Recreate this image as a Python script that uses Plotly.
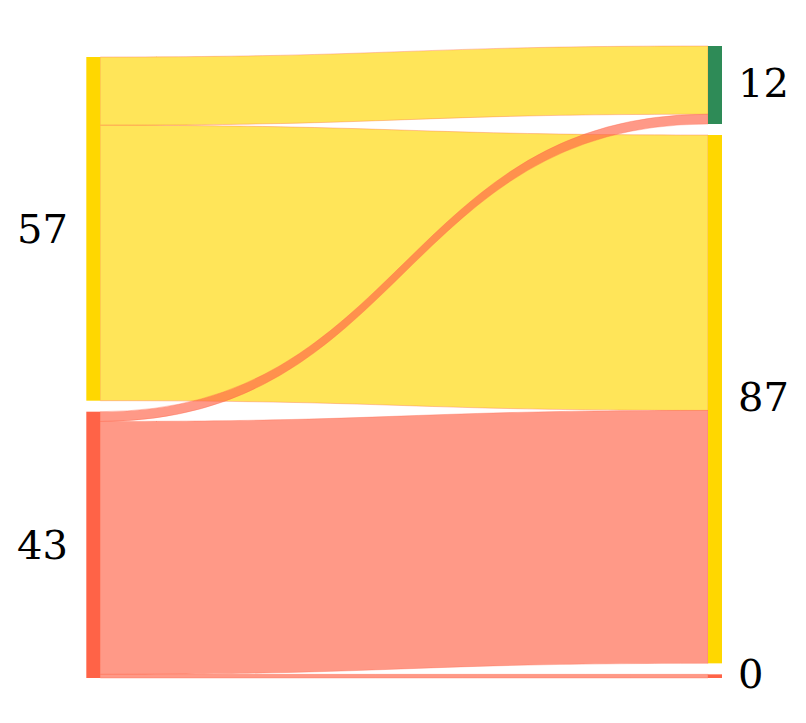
import plotly.graph_objects as go

# ---- data ----
node_labels = ["57", "43", "12", "87", "0"]
node_colors = ["#FFD700", "#FF6347", "#2E8B57", "#FFD700", "#FF6347"]
link_source = [0, 0, 1, 1, 1]
link_target = [2, 3, 2, 3, 4]
link_values = [11.2, 45.2, 1.6, 41.5, 0.6]


def rgba(hex_color, a):
    h = hex_color.lstrip("#")
    r, g, b = int(h[0:2], 16), int(h[2:4], 16), int(h[4:6], 16)
    return f"rgba({r},{g},{b},{a})"


link_fill = [rgba(node_colors[s], 0.65) for s in link_source]

W, Hfig = 806, 723
m_l, m_r, m_t, m_b = 85, 85, 38, 53
H = Hfig - m_t - m_b
DW = W - m_l - m_r
PAD = 11
THICK = 14

# node values and columns
n = len(node_labels)
in_v = [0.0] * n
out_v = [0.0] * n
for s, t, v in zip(link_source, link_target, link_values):
    out_v[s] += v
    in_v[t] += v
node_val = [max(a, b) for a, b in zip(in_v, out_v)]
left = [i for i in range(n) if in_v[i] == 0]
right = [i for i in range(n) if out_v[i] == 0]
ky = min((H - (len(c) - 1) * PAD) / sum(node_val[i] for i in c) for c in (left, right))

node_x = [0.0] * n
node_y = [0.0] * n
# right column stacked from top
y = 0.0
for i in right:
    h = node_val[i] * ky
    node_x[i] = 1 - THICK / DW
    node_y[i] = (y + h / 2) / H
    y += h + PAD
# left column stacked from bottom
y = H
for i in reversed(left):
    h = node_val[i] * ky
    node_x[i] = 0.0005
    node_y[i] = (y - h / 2) / H
    y -= h + PAD

fig = go.Figure(go.Sankey(
    arrangement="fixed",
    node=dict(
        label=["" for _ in node_labels],
        color=node_colors,
        pad=PAD,
        thickness=THICK,
        line=dict(width=0),
        x=node_x,
        y=node_y,
    ),
    link=dict(
        source=link_source,
        target=link_target,
        value=link_values,
        color=link_fill,
        line=dict(color="rgba(255,99,71,0.35)", width=1),
    ),
    textfont=dict(family="DejaVu Serif", size=40, color="black"),
))

annotations = []
for i in range(n):
    is_left = i in left
    annotations.append(dict(
        x=0 if is_left else 1, y=1 - node_y[i], xref="paper", yref="paper",
        text=node_labels[i], showarrow=False,
        xanchor="right" if is_left else "left", yanchor="middle",
        xshift=-23 if is_left else 7, yshift=0 if is_left else 2))

fig.update_layout(
    width=W, height=Hfig,
    margin=dict(l=m_l, r=m_r, t=m_t, b=m_b),
    paper_bgcolor="white",
    font=dict(family="DejaVu Serif", size=40, color="black"),
    annotations=annotations,
)

fig.write_html("out.html")
